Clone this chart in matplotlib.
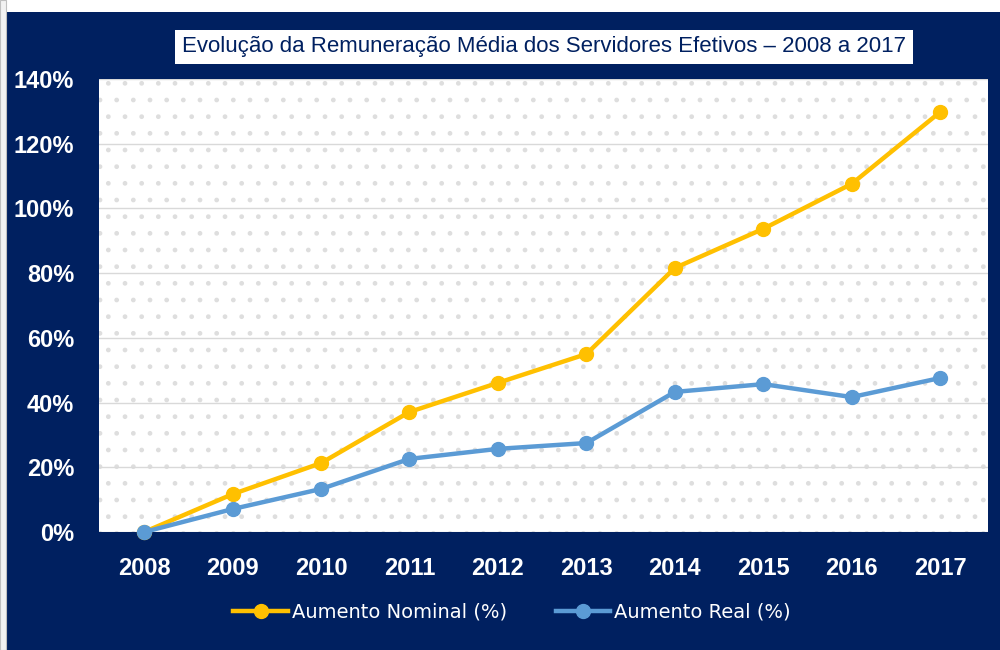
import matplotlib.pyplot as plt
from matplotlib.patches import Rectangle

anos = ["2008", "2009", "2010", "2011", "2012", "2013", "2014", "2015", "2016", "2017"]
nominal = [0.0, 11.7, 21.3, 37.1, 46.1, 55.0, 81.6, 93.7, 107.6, 129.8]
real = [0.0, 7.1, 13.3, 22.6, 25.7, 27.5, 43.3, 45.7, 41.7, 47.6]
yticks = [0, 20, 40, 60, 80, 100, 120, 140]

navy = "#002060"
plt.rcParams["font.family"] = ["Liberation Sans", "DejaVu Sans"]
plt.rcParams["hatch.linewidth"] = 1.0

fig = plt.figure(figsize=(10, 6.5), dpi=100, facecolor=navy)

# white strip at top/left like the cropped screenshot
fig.patches.append(Rectangle((0, 0.982), 1, 0.018, transform=fig.transFigure,
                             facecolor="white", edgecolor="none", zorder=0))
fig.patches.append(Rectangle((0, 0), 0.006, 1, transform=fig.transFigure,
                             facecolor="#f2f2f2", edgecolor="#bfbfbf", lw=0.8, zorder=0))

ax = fig.add_axes([0.099, 0.1815, 0.889, 0.697])
ax.set_facecolor("white")
# dotted texture of the plot area
ax.add_patch(Rectangle((0, 0), 1, 1, transform=ax.transAxes, facecolor="none",
                       edgecolor="#dedede", lw=0, hatch=".", zorder=0))

x = list(range(len(anos)))
ax.plot(x, nominal, color="#FFC000", lw=3.2, marker="o", ms=10, label="Aumento Nominal (%)",
        zorder=3, clip_on=False)
ax.plot(x, real, color="#5B9BD5", lw=3.2, marker="o", ms=10, label="Aumento Real (%)",
        zorder=3, clip_on=False)

ax.set_xlim(-0.51, 9.54)
ax.set_ylim(0, 140)
ax.set_yticks(yticks)
ax.set_yticklabels([f"{v}%" for v in yticks])
ax.set_xticks(x)
ax.set_xticklabels(anos)
ax.grid(axis="y", color="#d9d9d9", lw=1)
ax.set_axisbelow(True)
for s in ax.spines.values():
    s.set_visible(False)
ax.tick_params(length=0, colors="white", labelsize=17)
ax.tick_params(axis="y", pad=18)
ax.tick_params(axis="x", pad=18)
for lab in ax.get_xticklabels() + ax.get_yticklabels():
    lab.set_fontweight("bold")

fig.text(0.544, 0.928, "Evolução da Remuneração Média dos Servidores Efetivos – 2008 a 2017",
         ha="center", va="center", color=navy, fontsize=16,
         bbox=dict(boxstyle="square,pad=0.3", facecolor="white", edgecolor="none"))

leg = fig.legend(loc="center", bbox_to_anchor=(0.512, 0.058), ncol=2, frameon=False,
                 fontsize=14, handlelength=2.8, columnspacing=2.5, handletextpad=0.2)
for t in leg.get_texts():
    t.set_color("white")
    t.set_family(["DejaVu Sans"])

fig.savefig("out.png", dpi=100, facecolor=navy)
